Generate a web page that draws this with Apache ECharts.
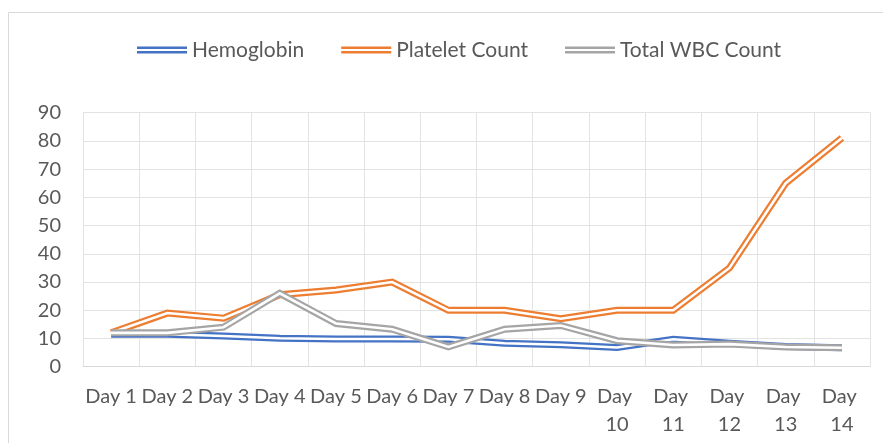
<!DOCTYPE html>
<html>
<head>
<meta charset="utf-8">
<script src="https://cdn.jsdelivr.net/npm/echarts@6/dist/echarts.min.js"></script>
<style>
html,body{margin:0;padding:0;background:#fff;}
#chart{width:883px;height:443px;}
</style>
</head>
<body>
<div id="chart"></div>
<script>
const categories = ['Day 1','Day 2','Day 3','Day 4','Day 5','Day 6','Day 7','Day 8','Day 9','Day 10','Day 11','Day 12','Day 13','Day 14'];
const hemoglobin = [11.5, 11.5, 10.9, 10.1, 9.8, 9.8, 9.7, 8.3, 7.8, 6.8, 9.7, 8.3, 7.2, 6.7];
const plateletCount = [12, 19, 17.2, 25.5, 27.2, 30, 20, 20, 17, 20, 20, 35, 65, 81];
const totalWBC = [12, 12, 14, 26, 15.3, 13.3, 7, 13.3, 14.6, 9.2, 7.7, 8, 7, 6.7];
const yTicks = {min: 0, max: 90, interval: 10};

const seriesNames = ['Hemoglobin', 'Platelet Count', 'Total WBC Count'];
const seriesData = [hemoglobin, plateletCount, totalWBC];
const colors = ['#4472C4', '#ED7D31', '#A5A5A5'];

const series = [];
seriesNames.forEach((name, i) => {
  series.push({
    name: name, type: 'line', data: seriesData[i], symbol: 'none',
    lineStyle: {width: 7, color: colors[i], join: 'miter'},
    itemStyle: {color: colors[i]},
    emphasis: {disabled: true}, silent: true
  });
  series.push({
    name: name + ' (inner)', type: 'line', data: seriesData[i], symbol: 'none',
    lineStyle: {width: 2.6, color: '#ffffff', join: 'miter'},
    itemStyle: {color: '#ffffff'},
    emphasis: {disabled: true}, silent: true
  });
});

const chart = echarts.init(document.getElementById('chart'), null, {renderer: 'canvas'});
chart.setOption({
  animation: false,
  backgroundColor: '#ffffff',
  graphic: [{
    type: 'rect', silent: true,
    shape: {x: 8.5, y: 12.5, width: 900, height: 500},
    style: {fill: null, stroke: '#d9d9d9', lineWidth: 1}
  }],
  legend: {
    data: seriesNames,
    left: 132, top: 33,
    itemWidth: 50, itemHeight: 7, itemGap: 37,
    icon: 'path://M0,0H50V2.4H0Z M0,4.6H50V7H0Z',
    itemStyle: {borderWidth: 0},
    textStyle: {fontFamily: 'Lato', fontSize: 21, color: '#595959', lineHeight: 24},
    selectedMode: false
  },
  grid: {left: 83, right: 13, top: 112.7, bottom: 76.3, containLabel: false},
  xAxis: {
    type: 'category', data: categories, boundaryGap: true,
    axisLine: {lineStyle: {color: '#d9d9d9', width: 1}},
    axisTick: {show: false},
    splitLine: {show: true, lineStyle: {color: '#e3e3e3', width: 1}},
    axisLabel: {
      interval: 0, fontFamily: 'Lato', fontSize: 20, color: '#595959',
      margin: 16, lineHeight: 28, width: 56, overflow: 'break'
    }
  },
  yAxis: {
    type: 'value', min: yTicks.min, max: yTicks.max, interval: yTicks.interval,
    axisLine: {show: false}, axisTick: {show: false},
    splitLine: {lineStyle: {color: '#e3e3e3', width: 1}},
    axisLabel: {fontFamily: 'Lato', fontSize: 20, color: '#595959', margin: 22}
  },
  series: series
});
</script>
</body>
</html>
